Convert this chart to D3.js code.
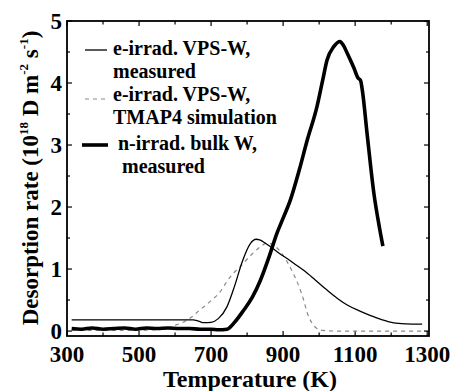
<!DOCTYPE html>
<html>
<head>
<meta charset="utf-8">
<script src="https://cdn.jsdelivr.net/npm/d3@7"></script>
<style>
  body { margin: 0; background: #fff; }
  svg text { font-family: "Liberation Serif", "Times New Roman", Times, serif; font-weight: bold; fill: #000; }
</style>
</head>
<body>
<div id="chart"></div>
<script>
// e-irrad. VPS-W, measured
var measT = [313, 400, 500, 600, 650, 665, 680, 700, 720, 744, 765, 786, 809, 825, 835, 850, 865, 890, 911, 935, 957, 990, 1022, 1050, 1078, 1110, 1143, 1175, 1207, 1240, 1286];
var measV = [0.18, 0.18, 0.18, 0.18, 0.18, 0.16, 0.135, 0.14, 0.2, 0.39, 0.72, 1.11, 1.41, 1.48, 1.47, 1.42, 1.36, 1.25, 1.17, 1.07, 0.98, 0.82, 0.66, 0.53, 0.42, 0.33, 0.25, 0.18, 0.13, 0.115, 0.11];

// e-irrad. VPS-W, TMAP4 simulation
var simT = [313, 500, 560, 600, 640, 669, 700, 725, 744, 760, 781, 810, 837, 855, 875, 895, 911, 928, 944, 957, 967, 980, 994, 1010, 1050, 1291];
var simV = [0.01, 0.01, 0.03, 0.09, 0.2, 0.34, 0.49, 0.63, 0.8, 0.92, 1.04, 1.22, 1.36, 1.42, 1.38, 1.26, 1.12, 0.93, 0.72, 0.5, 0.29, 0.13, 0.04, 0.01, 0, 0];

// n-irrad. bulk W, measured
var bulkT = [313, 340, 370, 400, 430, 460, 490, 520, 550, 580, 610, 640, 670, 700, 720, 744, 765, 791, 815, 837, 860, 883, 900, 920, 945, 967, 994, 1010, 1022, 1041, 1058, 1066, 1078, 1096, 1108, 1115, 1120, 1133, 1152, 1168, 1177];
var bulkV = [0.04, 0.03, 0.05, 0.03, 0.04, 0.05, 0.03, 0.05, 0.04, 0.05, 0.04, 0.04, 0.03, 0.03, 0.02, 0.03, 0.14, 0.34, 0.55, 0.82, 1.18, 1.58, 1.82, 2.11, 2.6, 3.08, 3.62, 4.05, 4.37, 4.59, 4.67, 4.62, 4.48, 4.25, 4.08, 4.04, 3.88, 3.19, 2.22, 1.65, 1.37];

var xTicks = [300, 500, 700, 900, 1100, 1300];
var yTicks = [0, 1, 2, 3, 4, 5];

var width = 454, height = 391;
var margin = { left: 67, top: 21, right: 25, bottom: 55 };

var svg = d3.select("#chart").append("svg")
    .attr("width", width)
    .attr("height", height);

svg.append("rect").attr("width", width).attr("height", height).attr("fill", "#fff");

var x = d3.scaleLinear().domain([300, 1305]).range([margin.left, width - margin.right]);
var y = d3.scaleLinear().domain([-0.08, 5]).range([height - margin.bottom, margin.top]);

var x0 = x.range()[0], x1 = x.range()[1], y0 = y.range()[0], y1 = y.range()[1];

// ticks (inward, all four sides)
var xMinor = d3.range(300, 1301, 100);
var yMinor = d3.range(0, 5.01, 0.5);

var g = svg.append("g").attr("stroke", "#000").attr("stroke-width", 1.2);
xMinor.forEach(function(t) {
    var len = xTicks.indexOf(t) >= 0 ? 5 : 3.5;
    g.append("line").attr("x1", x(t)).attr("x2", x(t)).attr("y1", y0).attr("y2", y0 - len);
    g.append("line").attr("x1", x(t)).attr("x2", x(t)).attr("y1", y1).attr("y2", y1 + len);
});
yMinor.forEach(function(v) {
    var len = (v % 1 === 0) ? 5 : 3;
    g.append("line").attr("x1", x0).attr("x2", x0 + len).attr("y1", y(v)).attr("y2", y(v));
    g.append("line").attr("x1", x1).attr("x2", x1 - len).attr("y1", y(v)).attr("y2", y(v));
});

svg.append("rect")
    .attr("x", x0).attr("y", y1)
    .attr("width", x1 - x0).attr("height", y0 - y1)
    .attr("fill", "none").attr("stroke", "#000").attr("stroke-width", 1.8);

// tick labels
svg.append("g").selectAll("text").data(xTicks).enter().append("text")
    .attr("x", function(d) { return x(d); })
    .attr("y", 362)
    .attr("text-anchor", "middle")
    .attr("font-size", 23)
    .text(function(d) { return d; });

svg.append("g").selectAll("text").data(yTicks).enter().append("text")
    .attr("x", 62)
    .attr("y", function(d) { return y(d) + 8; })
    .attr("text-anchor", "end")
    .attr("font-size", 23)
    .text(function(d) { return d; });

// axis titles
svg.append("text")
    .attr("x", 250).attr("y", 387)
    .attr("text-anchor", "middle")
    .attr("font-size", 24)
    .text("Temperature (K)");

var yt = svg.append("text")
    .attr("transform", "translate(38,178) rotate(-90)")
    .attr("text-anchor", "middle")
    .attr("font-size", 23);
yt.append("tspan").text("Desorption rate (10");
yt.append("tspan").attr("font-size", 13).attr("dy", -10).text("18");
yt.append("tspan").attr("dy", 10).text(" D m");
yt.append("tspan").attr("font-size", 13).attr("dy", -10).text("-2");
yt.append("tspan").attr("dy", 10).text(" s");
yt.append("tspan").attr("font-size", 13).attr("dy", -10).text("-1");
yt.append("tspan").attr("dy", 10).text(")");

// curves
var line = d3.line()
    .x(function(d) { return x(d[0]); })
    .y(function(d) { return y(d[1]); })
    .curve(d3.curveMonotoneX);

function pairs(a, b) { return a.map(function(t, i) { return [t, b[i]]; }); }

svg.append("path").datum(pairs(simT, simV))
    .attr("d", line).attr("fill", "none")
    .attr("stroke", "#888").attr("stroke-width", 1.2).attr("stroke-dasharray", "4,4");

svg.append("path").datum(pairs(measT, measV))
    .attr("d", line).attr("fill", "none")
    .attr("stroke", "#000").attr("stroke-width", 1.3);

svg.append("path").datum(pairs(bulkT, bulkV))
    .attr("d", line).attr("fill", "none")
    .attr("stroke", "#000").attr("stroke-width", 3.6).attr("stroke-linejoin", "round");

// legend
var leg = svg.append("g");
leg.append("line").attr("x1", 85).attr("x2", 107).attr("y1", 50).attr("y2", 50)
    .attr("stroke", "#000").attr("stroke-width", 1.3);
leg.append("line").attr("x1", 85).attr("x2", 107).attr("y1", 99).attr("y2", 99)
    .attr("stroke", "#888").attr("stroke-width", 1.2).attr("stroke-dasharray", "4,4");
leg.append("line").attr("x1", 82).attr("x2", 108).attr("y1", 145).attr("y2", 145)
    .attr("stroke", "#000").attr("stroke-width", 3.6);

var legText = [
    [113, 55, "e-irrad. VPS-W,"],
    [113, 78, "measured"],
    [113, 101, "e-irrad. VPS-W,"],
    [113, 124, "TMAP4 simulation"],
    [118, 150, "n-irrad. bulk W,"],
    [122, 173, "measured"]
];
leg.selectAll("text").data(legText).enter().append("text")
    .attr("x", function(d) { return d[0]; })
    .attr("y", function(d) { return d[1]; })
    .attr("font-size", 20)
    .text(function(d) { return d[2]; });
</script>
</body>
</html>
